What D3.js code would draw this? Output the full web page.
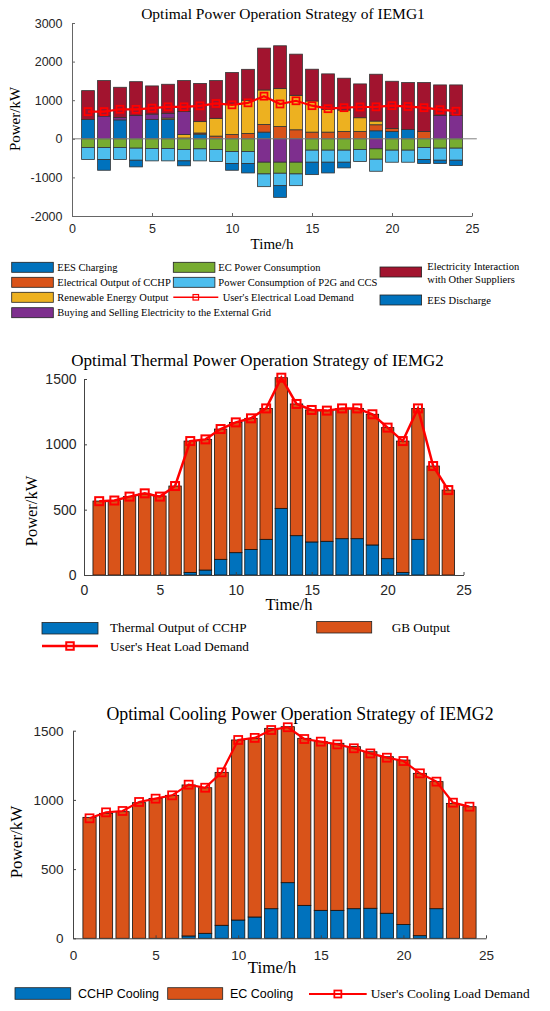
<!DOCTYPE html>
<html><head><meta charset="utf-8">
<script src="https://cdn.jsdelivr.net/npm/d3@7/dist/d3.min.js"></script>
<style>body{margin:0;background:#fff} svg{display:block}</style>
</head><body>
<svg id="c" width="550" height="1011"></svg>
<script>
// ---------- DATA ----------
const hours = [1,2,3,4,5,6,7,8,9,10,11,12,13,14,15,16,17,18,19,20,21,22,23,24];
const xTickValues = [0,5,10,15,20,25];

// Chart 1: Optimal Power Operation Strategy of IEMG1 (kW)
const eesDischarge   = [500,0,490,0,503,503,0,121,0,0,0,173,0,0,0,0,0,0,208,190,243,0,0,0];
const cchpElectric   = [0,0,0,0,0,0,20,30,70,113,140,200,320,234,173,173,190,190,156,79,0,190,0,0];
const renewable      = [0,0,0,0,0,34,90,294,460,787,860,892,980,893,807,590,555,356,96,0,0,0,0,0];
const gridTrade      = [0,590,60,607,137,123,600,0,0,0,0,-607,-607,-607,0,0,0,0,-260,0,0,0,607,607];
const interaction    = [748,918,785,873,730,753,798,990,978,817,800,1085,1110,1066,823,919,825,876,1213,1222,1214,1267,789,789];
const ecConsumption  = [225,225,225,243,250,250,277,260,277,330,330,303,286,303,295,295,295,277,269,295,295,225,243,243];
const p2gConsumption = [312,312,312,312,322,322,295,312,313,310,310,330,321,304,312,312,312,313,312,312,312,312,312,312];
const eesCharging    = [0,278,0,173,0,0,128,0,0,175,245,0,303,0,321,278,147,0,0,0,0,103,85,138];
const elecLoad       = [705,705,765,763,795,828,828,854,915,880,932,1105,902,985,858,780,806,824,828,858,836,806,754,715];
const yTicks1 = [-2000,-1000,0,1000,2000,3000];

// Chart 2: Thermal (kW)
const thermalCCHP = [0,0,0,0,0,0,20,38,120,171,196,273,510,301,253,258,278,278,230,125,20,273,0,0];
const gbOutput    = [566,569,600,620,605,681,1005,1000,997,997,1003,1002,1000,1008,1010,1000,997,997,1000,1003,1005,1002,834,650];
const heatLoad    = [565,570,600,625,600,681,1025,1038,1117,1168,1199,1275,1510,1309,1263,1258,1275,1275,1230,1128,1025,1275,834,650];
const yTicks2 = [0,500,1000,1500];

// Chart 3: Cooling (kW)
const cchpCooling = [0,0,0,0,0,0,17,36,94,132,154,214,402,238,202,202,214,217,181,99,19,214,0,0];
const ecCooling   = [874,903,915,980,1011,1033,1091,1052,1105,1301,1291,1303,1127,1207,1219,1207,1171,1131,1131,1189,1173,918,975,951];
const coolLoad    = [867,910,920,985,1009,1033,1110,1088,1199,1433,1448,1505,1525,1440,1421,1401,1373,1336,1305,1281,1192,1132,980,951];
const yTicks3 = [0,500,1000,1500];

// ---------- STYLE ----------
const COL = {blue:'#0072BD', orange:'#D95319', yellow:'#EDB120', purple:'#7E2F8E',
             green:'#77AC30', lightblue:'#4DBEEE', darkred:'#A2142F', red:'#FF0000'};
const SERIF = '"Liberation Serif","Times New Roman",serif';
const SANS  = '"Liberation Sans",Arial,sans-serif';

const svg = d3.select('#c');
const plainFmt = d => String(d);

function drawAxes(g, x, y, yTicks, o) {
  const xa = g.append('g').attr('transform', `translate(0,${y(y.domain()[0])})`)
    .call(d3.axisBottom(x).tickValues(xTickValues).tickFormat(plainFmt).tickSizeInner(-o.tick).tickSizeOuter(0).tickPadding(o.xpad));
  const ya = g.append('g').attr('transform', `translate(${x(0)},0)`)
    .call(d3.axisLeft(y).tickValues(yTicks).tickFormat(plainFmt).tickSizeInner(-o.tick).tickSizeOuter(0).tickPadding(o.ypad));
  [xa, ya].forEach(a => {
    a.selectAll('path,line').attr('stroke', o.axisColor).attr('stroke-width', 1);
    a.selectAll('text').attr('fill', '#262626').style('font-family', SANS).style('font-size', o.tickFont + 'px');
  });
}

function drawStack(g, x, y, keys, rows, colors, bw, stroke) {
  const series = d3.stack().keys(keys).offset(d3.stackOffsetDiverging)(rows);
  series.forEach((s, i) => {
    g.append('g').selectAll('rect').data(s.filter(d => d[1] !== d[0])).join('rect')
      .attr('x', d => x(d.data.h) - bw / 2)
      .attr('width', bw)
      .attr('y', d => y(Math.max(d[0], d[1])))
      .attr('height', d => Math.abs(y(d[0]) - y(d[1])))
      .attr('fill', colors[i]).attr('stroke', stroke).attr('stroke-width', 0.8);
  });
}

function drawLoad(g, x, y, vals, lw, ms) {
  g.append('path').datum(vals)
    .attr('d', d3.line().x((d, i) => x(hours[i])).y(d => y(d)))
    .attr('fill', 'none').attr('stroke', COL.red).attr('stroke-width', lw);
  g.append('g').selectAll('rect').data(vals).join('rect')
    .attr('x', (d, i) => x(hours[i]) - ms / 2).attr('y', d => y(d) - ms / 2)
    .attr('width', ms).attr('height', ms)
    .attr('fill', 'none').attr('stroke', COL.red).attr('stroke-width', lw * 0.8);
}

function text(g, s, xx, yy, size, font, anchor, rot) {
  const t = g.append('text').text(s).attr('x', xx).attr('y', yy)
    .style('font-family', font).style('font-size', size + 'px')
    .attr('fill', '#000').attr('text-anchor', anchor || 'start');
  if (rot) t.attr('transform', `rotate(${rot},${xx},${yy})`);
  return t;
}
function swatch(g, xx, yy, w, h, c) {
  g.append('rect').attr('x', xx).attr('y', yy).attr('width', w).attr('height', h)
    .attr('fill', c).attr('stroke', '#222').attr('stroke-width', 0.8);
}
function lineSwatch(g, x1, x2, yy, lw, ms) {
  g.append('line').attr('x1', x1).attr('x2', x2).attr('y1', yy).attr('y2', yy)
    .attr('stroke', COL.red).attr('stroke-width', lw);
  const m = (x1 + x2) / 2;
  g.append('rect').attr('x', m - ms / 2).attr('y', yy - ms / 2).attr('width', ms).attr('height', ms)
    .attr('fill', 'none').attr('stroke', COL.red).attr('stroke-width', lw * 0.8);
}

// ---------- CHART 1 ----------
{
  const g = svg.append('g');
  const x = d3.scaleLinear().domain([0, 25]).range([72, 472]);
  const y = d3.scaleLinear().domain([-2000, 3000]).range([216, 23]);
  const rows = hours.map((h, i) => ({h, dis: eesDischarge[i], cchp: cchpElectric[i], ren: renewable[i],
    grid: gridTrade[i], inter: interaction[i], ec: -ecConsumption[i], p2g: -p2gConsumption[i], chg: -eesCharging[i]}));
  const keys = ['dis','cchp','ren','grid','inter','ec','p2g','chg'];
  const colors = [COL.blue, COL.orange, COL.yellow, COL.purple, COL.darkred, COL.green, COL.lightblue, COL.blue];
  drawStack(g, x, y, keys, rows, colors, 0.8 * (x(1) - x(0)), '#333');
  g.append('line').attr('x1', x(0)).attr('x2', x(25.3)).attr('y1', y(0)).attr('y2', y(0))
    .attr('stroke', '#808080').attr('stroke-width', 1);
  drawAxes(g, x, y, yTicks1, {tick: 3, xpad: 8.5, ypad: 9.5, tickFont: 12.5, axisColor: '#666'});
  drawLoad(g, x, y, elecLoad, 2.2, 7);
  text(g, 'Optimal Power Operation Strategy of IEMG1', 283, 19, 15.5, SERIF, 'middle');
  text(g, 'Power/kW', 20, 119, 15, SERIF, 'middle', -90);
  text(g, 'Time/h', 272, 249, 15, SERIF, 'middle');

  // legend
  const fs = 10.5;
  const rowsY = [262.3, 277.3, 292.3, 307.7];
  swatch(g, 11.7, rowsY[0], 41.6, 10, COL.blue);      text(g, 'EES Charging', 57.3, rowsY[0] + 8.5, fs, SERIF);
  swatch(g, 11.7, rowsY[1], 41.6, 10, COL.orange);    text(g, 'Electrical Output of CCHP', 57.3, rowsY[1] + 8.5, fs, SERIF);
  swatch(g, 11.7, rowsY[2], 41.6, 10, COL.yellow);    text(g, 'Renewable Energy Output', 57.3, rowsY[2] + 8.5, fs, SERIF);
  swatch(g, 11.7, rowsY[3], 41.6, 10, COL.purple);    text(g, 'Buying and Selling Electricity to the External Grid', 57.3, rowsY[3] + 8.5, fs, SERIF);
  swatch(g, 173.3, rowsY[0], 41.6, 10, COL.green);    text(g, 'EC Power Consumption', 218.3, rowsY[0] + 8.5, fs, SERIF);
  swatch(g, 173.3, rowsY[1], 41.6, 10, COL.lightblue);text(g, 'Power Consumption of P2G and CCS', 218.3, rowsY[1] + 8.5, fs, SERIF);
  lineSwatch(g, 173.3, 218.3, rowsY[2] + 5, 1.5, 5.5); text(g, "User's Electrical Load Demand", 222.7, rowsY[2] + 8.5, fs, SERIF);
  swatch(g, 380, 267, 41.6, 10, COL.darkred);
  text(g, 'Electricity Interaction', 427.3, 269.5, fs, SERIF);
  text(g, 'with Other Suppliers', 427.3, 283, fs, SERIF);
  swatch(g, 380, 295, 41.6, 10, COL.blue);            text(g, 'EES Discharge', 427.3, 303.5, fs, SERIF);
}

// ---------- CHART 2 ----------
{
  const g = svg.append('g');
  const x = d3.scaleLinear().domain([0, 25]).range([84, 463.5]);
  const y = d3.scaleLinear().domain([0, 1500]).range([575, 379]);
  const rows = hours.map((h, i) => ({h, cchp: thermalCCHP[i], gb: gbOutput[i]}));
  drawStack(g, x, y, ['cchp','gb'], rows, [COL.blue, COL.orange], 0.82 * (x(1) - x(0)), '#111');
  drawAxes(g, x, y, yTicks2, {tick: 3, xpad: 10, ypad: 7.5, tickFont: 14, axisColor: '#444'});
  drawLoad(g, x, y, heatLoad, 2.5, 8);
  text(g, 'Optimal Thermal Power Operation Strategy of IEMG2', 257.5, 366, 17, SERIF, 'middle');
  text(g, 'Power/kW', 37, 511, 16.5, SERIF, 'middle', -90);
  text(g, 'Time/h', 289, 610, 16.5, SERIF, 'middle');
  swatch(g, 42, 622.5, 56, 11.5, COL.blue);   text(g, 'Thermal Output of CCHP', 110, 632, 13.2, SERIF);
  swatch(g, 316.7, 621.5, 55, 11.5, COL.orange); text(g, 'GB Output', 391.7, 632, 13.2, SERIF);
  lineSwatch(g, 42, 98, 646, 2.5, 7.5);       text(g, "User's Heat Load Demand", 110, 650.5, 13.2, SERIF);
}

// ---------- CHART 3 ----------
{
  const g = svg.append('g');
  const x = d3.scaleLinear().domain([0, 25]).range([73, 486]);
  const y = d3.scaleLinear().domain([0, 1500]).range([938.3, 730.7]);
  const rows = hours.map((h, i) => ({h, cchp: cchpCooling[i], ec: ecCooling[i]}));
  drawStack(g, x, y, ['cchp','ec'], rows, [COL.blue, COL.orange], 0.8 * (x(1) - x(0)), '#111');
  drawAxes(g, x, y, yTicks3, {tick: 3, xpad: 12, ypad: 9.5, tickFont: 13.5, axisColor: '#444'});
  drawLoad(g, x, y, coolLoad, 2.2, 8);
  text(g, 'Optimal Cooling Power Operation Strategy of IEMG2', 300, 720, 17.8, SERIF, 'middle');
  text(g, 'Power/kW', 21.5, 842, 17, SERIF, 'middle', -90);
  text(g, 'Time/h', 272, 973, 17, SERIF, 'middle');
  swatch(g, 15, 987.7, 55.7, 11.6, COL.blue);    text(g, 'CCHP Cooling', 78, 998, 12.5, SANS);
  swatch(g, 167.7, 987.7, 55, 11.6, COL.orange); text(g, 'EC Cooling', 230, 998, 12.5, SANS);
  lineSwatch(g, 309, 366.7, 994, 2.2, 7);        text(g, "User's Cooling Load Demand", 370.7, 998, 13.4, SERIF);
}
</script>
</body></html>
